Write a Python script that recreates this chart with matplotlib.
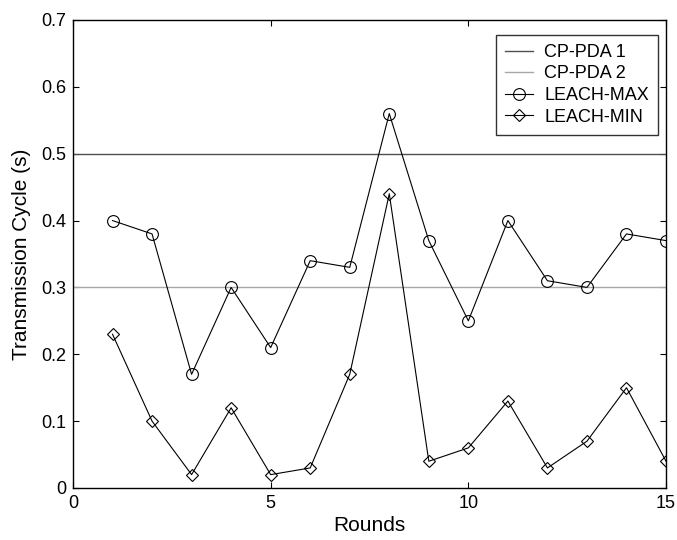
import matplotlib
matplotlib.use("Agg")
import matplotlib.pyplot as plt
import numpy as np

rounds = list(range(1, 16))
leach_max = [0.40, 0.38, 0.17, 0.30, 0.21, 0.34, 0.33, 0.56, 0.37, 0.25, 0.40, 0.31, 0.30, 0.38, 0.37]
leach_min = [0.23, 0.10, 0.02, 0.12, 0.02, 0.03, 0.17, 0.44, 0.04, 0.06, 0.13, 0.03, 0.07, 0.15, 0.04]
cp_pda1 = 0.5
cp_pda2 = 0.3
xticks = [0, 5, 10, 15]
yticks = [0, 0.1, 0.2, 0.3, 0.4, 0.5, 0.6, 0.7]
ytick_labels = ['0', '0.1', '0.2', '0.3', '0.4', '0.5', '0.6', '0.7']

plt.rcParams['font.family'] = ['Liberation Sans', 'DejaVu Sans']

fig = plt.figure(figsize=(6.77, 5.4), dpi=100)
ax = fig.add_axes([0.1078, 0.0963, 0.876, 0.8667])

ax.plot([0, 15], [cp_pda1, cp_pda1], color='#505050', lw=1.0, label='CP-PDA 1')
ax.plot([0, 15], [cp_pda2, cp_pda2], color='#a8a8a8', lw=1.0, label='CP-PDA 2')
ax.plot(rounds, leach_max, color='black', lw=0.8, marker='o', ms=8.5, mfc='none', mec='black', mew=0.8, label='LEACH-MAX')
ax.plot(rounds, leach_min, color='black', lw=0.8, marker='D', ms=6.5, mfc='none', mec='black', mew=0.8, label='LEACH-MIN')

ax.set_xlim(0, 15)
ax.set_ylim(0, 0.7)
ax.set_xticks(xticks)
ax.set_yticks(yticks)
ax.set_yticklabels(ytick_labels)
ax.tick_params(direction='in', top=True, right=True, labelsize=13, length=4, width=0.8, pad=5)
for s in ax.spines.values():
    s.set_linewidth(1.0)
ax.set_xlabel('Rounds', fontsize=15, labelpad=3)
ax.set_ylabel('Transmission Cycle (s)', fontsize=15, labelpad=7)

leg = ax.legend(loc='upper right', bbox_to_anchor=(0.9865, 0.968), borderaxespad=0, fontsize=13,
                frameon=True, fancybox=False, edgecolor='black', handlelength=1.55,
                handletextpad=0.6, borderpad=0.5, labelspacing=0.25)
leg.get_frame().set_linewidth(1.0)

fig.savefig('out.png', dpi=100, facecolor='white')
